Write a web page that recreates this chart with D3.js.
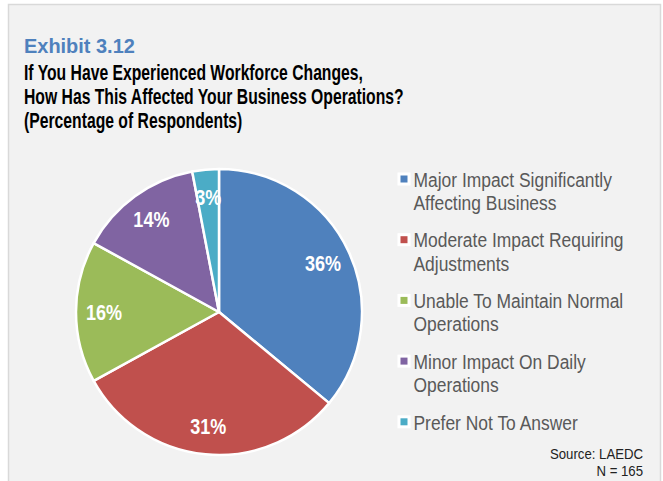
<!DOCTYPE html>
<html>
<head>
<meta charset="utf-8">
<script src="https://cdn.jsdelivr.net/npm/d3@7"></script>
<style>
  body { margin: 0; background: #fff; }
  svg { display: block; }
  text { font-family: "Liberation Sans Narrow", "Arial Narrow", "Liberation Sans", Arial, sans-serif; }
</style>
</head>
<body>
<div id="chart"></div>
<script>
// data
var categories = [
  "Major Impact Significantly|Affecting Business",
  "Moderate Impact Requiring|Adjustments",
  "Unable To Maintain Normal|Operations",
  "Minor Impact On Daily|Operations",
  "Prefer Not To Answer"
];
var shares = [36, 31, 16, 14, 3];
var colours = ["#4f81bd", "#c0504d", "#9bbb59", "#8064a2", "#4bacc6"];
var titleLines = [
  "If You Have Experienced Workforce Changes,",
  "How Has This Affected Your Business Operations?",
  "(Percentage of Respondents)"
];

var width = 663, height = 481;
var radius = 143;

var svg = d3.select("#chart").append("svg")
  .attr("width", width)
  .attr("height", height);

// no narrow face installed, so squeeze the regular one horizontally
function squeezed(parent, x, y, sx) {
  return parent.append("g")
    .attr("transform", "translate(" + x + "," + y + ") scale(" + sx + ",1)")
    .append("text");
}

// panel
svg.append("rect")
  .attr("x", 8.5).attr("y", 4.5)
  .attr("width", 652).attr("height", 490)
  .attr("fill", "#f2f2f2")
  .attr("stroke", "#d9d9d9")
  .attr("stroke-width", 1.5);

// title
squeezed(svg, 24, 52.5, 0.95)
  .attr("fill", "#4f81bd")
  .attr("font-size", 21)
  .attr("font-weight", "bold")
  .text("Exhibit 3.12");

titleLines.forEach(function (line, i) {
  squeezed(svg, 24, 80 + i * 24.2, 0.715)
    .attr("fill", "#000")
    .attr("font-size", 22)
    .attr("font-weight", "bold")
    .text(line);
});

// pie
var g = svg.append("g")
  .attr("transform", "translate(219,312)");

var pie = d3.pie().sort(null).value(function (d) { return d; });
var arcs = pie(shares);

var arc = d3.arc().innerRadius(0).outerRadius(radius);
var labelArc = d3.arc().innerRadius(115).outerRadius(115);

g.selectAll("path")
  .data(arcs)
  .enter().append("path")
  .attr("d", arc)
  .attr("fill", function (d, i) { return colours[i]; })
  .attr("stroke", "#fff")
  .attr("stroke-width", 2.5)
  .attr("stroke-linejoin", "round");

arcs.forEach(function (d) {
  var c = labelArc.centroid(d);
  squeezed(g, c[0], c[1], 0.82)
    .attr("text-anchor", "middle")
    .attr("dy", "0.36em")
    .attr("fill", "#fff")
    .attr("font-size", 22)
    .attr("font-weight", "bold")
    .text(d.data + "%");
});

// legend
var legend = svg.append("g")
  .attr("transform", "translate(404,179)");

var item = legend.selectAll("g")
  .data(categories)
  .enter().append("g")
  .attr("transform", function (d, i) { return "translate(0," + i * 60.7 + ")"; });

item.append("rect")
  .attr("x", -6.5).attr("y", -6.5)
  .attr("width", 13).attr("height", 13)
  .attr("fill", "#fff");

item.append("rect")
  .attr("x", -3.5).attr("y", -3.5)
  .attr("width", 7).attr("height", 7)
  .attr("fill", function (d, i) { return colours[i]; });

item.each(function (d) {
  var t = squeezed(d3.select(this), 9.5, 0, 0.83)
    .attr("fill", "#595959")
    .attr("font-size", 21);
  t.selectAll("tspan")
    .data(d.split("|"))
    .enter().append("tspan")
    .attr("x", 0)
    .attr("y", function (s, i) { return 7.7 + i * 23.4; })
    .text(function (s) { return s; });
});

// source
squeezed(svg, 643, 458.5, 0.88)
  .attr("text-anchor", "end")
  .attr("font-size", 15)
  .attr("fill", "#222")
  .text("Source: LAEDC");

squeezed(svg, 643, 475.5, 0.88)
  .attr("text-anchor", "end")
  .attr("font-size", 15)
  .attr("fill", "#222")
  .text("N = 165");
</script>
</body>
</html>
